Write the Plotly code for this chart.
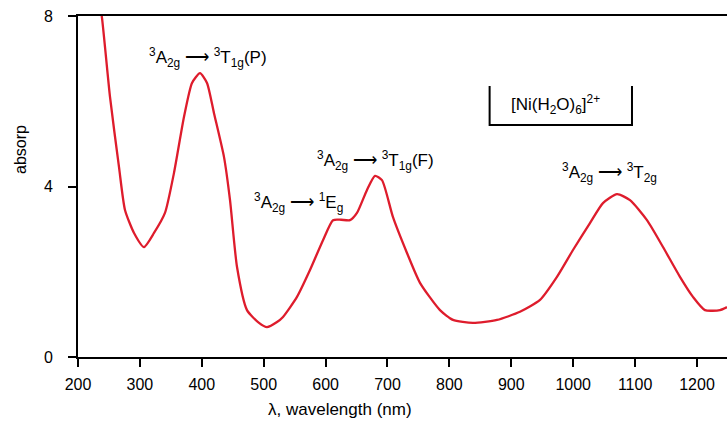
import plotly.graph_objects as go

# Absorption spectrum of [Ni(H2O)6]2+
wavelength_nm = [232, 238.8, 251.7, 266.2, 275.9, 290.5, 306.6, 322.8, 340.5, 355.1,
                 371.2, 384.2, 397.1, 408.4, 419.7, 435.9, 445.6, 456.9, 473.0, 492.4,
                 505.3, 521.5, 531.2, 553.8, 574.8, 595.8, 612.0, 625.0, 639.4, 650.7,
                 666.9, 679.8, 691.1, 708.9, 731.5, 752.5, 784.8, 805.8, 838.1, 876.9,
                 914.1, 946.4, 973.8, 999.7, 1027.1, 1048.1, 1070.8, 1091.8, 1119.2,
                 1145.1, 1172.5, 1193.5, 1212.9, 1237.2, 1248.5]
absorbance = [8.6, 7.95, 6.10, 4.46, 3.45, 2.91, 2.58, 2.91, 3.38, 4.32,
              5.63, 6.43, 6.66, 6.43, 5.72, 4.69, 3.68, 2.11, 1.10, 0.80,
              0.70, 0.82, 0.94, 1.41, 2.04, 2.74, 3.21, 3.22, 3.21, 3.38,
              3.92, 4.25, 4.15, 3.28, 2.44, 1.74, 1.10, 0.87, 0.80, 0.87,
              1.06, 1.34, 1.88, 2.51, 3.14, 3.61, 3.82, 3.68, 3.21,
              2.58, 1.88, 1.41, 1.10, 1.10, 1.17]

x_ticks = [200, 300, 400, 500, 600, 700, 800, 900, 1000, 1100, 1200]
y_ticks = [0, 4, 8]

ARROW = " \u27f6 "
band_labels = [
    "<sup>3</sup>A<sub>2g</sub>" + ARROW + "<sup>3</sup>T<sub>1g</sub>(P)",
    "<sup>3</sup>A<sub>2g</sub>" + ARROW + "<sup>1</sup>E<sub>g</sub>",
    "<sup>3</sup>A<sub>2g</sub>" + ARROW + "<sup>3</sup>T<sub>1g</sub>(F)",
    "<sup>3</sup>A<sub>2g</sub>" + ARROW + "<sup>3</sup>T<sub>2g</sub>",
]
band_label_x = [410, 557, 680, 1059]
band_label_y = [7.02, 3.62, 4.62, 4.32]

complex_label = "[Ni(H<sub>2</sub>O)<sub>6</sub>]<sup>2+</sup>"

FONT = "Liberation Sans, Arial, sans-serif"

fig = go.Figure()
fig.add_trace(go.Scatter(
    x=wavelength_nm, y=absorbance, mode="lines",
    line=dict(color="rgb(222,28,44)", width=2.3, shape="spline", smoothing=0.6),
    showlegend=False, hoverinfo="skip"))

for t, x, y in zip(band_labels, band_label_x, band_label_y):
    fig.add_annotation(x=x, y=y, xref="x", yref="y", text=t, showarrow=False,
                       xanchor="center", yanchor="middle",
                       font=dict(family=FONT, size=17, color="black"))

# complex label with open-top box
fig.add_annotation(x=972, y=5.93, xref="x", yref="y", text=complex_label,
                   showarrow=False, xanchor="center", yanchor="middle",
                   font=dict(family=FONT, size=17, color="black"))
fig.add_shape(type="path", xref="x", yref="y",
              path="M 865,6.36 L 865,5.44 L 1095,5.44 L 1095,6.36",
              line=dict(color="black", width=2))

# axis titles as annotations (pixel positions converted below)
fig.add_annotation(x=340, y=409, xref="paper", yref="paper", text="\u03bb, wavelength (nm)",
                   showarrow=False, xanchor="center", yanchor="middle",
                   font=dict(family=FONT, size=17, color="black"))
fig.add_annotation(x=20, y=150, xref="paper", yref="paper", text="absorp",
                   textangle=-90, showarrow=False, xanchor="center", yanchor="middle",
                   font=dict(family=FONT, size=16, color="black"))

fig.update_layout(
    width=727, height=438,
    margin=dict(l=78, r=0, t=16, b=81),
    paper_bgcolor="white", plot_bgcolor="white",
    font=dict(family=FONT, size=16, color="black"),
    xaxis=dict(range=[200, 1248.5], tickvals=x_ticks, ticks="outside", ticklen=8,
               tickwidth=2, tickcolor="black", showline=True, linecolor="black",
               linewidth=2, mirror=True, showgrid=False, zeroline=False,
               ticklabelstandoff=4,
               tickfont=dict(family=FONT, size=16)),
    yaxis=dict(range=[0, 8], tickvals=y_ticks, ticks="outside", ticklen=8,
               tickwidth=2, tickcolor="black", showline=True, linecolor="black",
               linewidth=2, showgrid=False, zeroline=False,
               ticklabelstandoff=12,
               tickfont=dict(family=FONT, size=16)),
)

pw, ph = 727 - 78 - 0, 438 - 16 - 81
for a in fig.layout.annotations:
    if a.xref == "paper":
        px, py = a.x, a.y
        a.x = (px - 78) / pw
        a.y = (438 - 81 - py) / ph

fig.write_html("out.html")
